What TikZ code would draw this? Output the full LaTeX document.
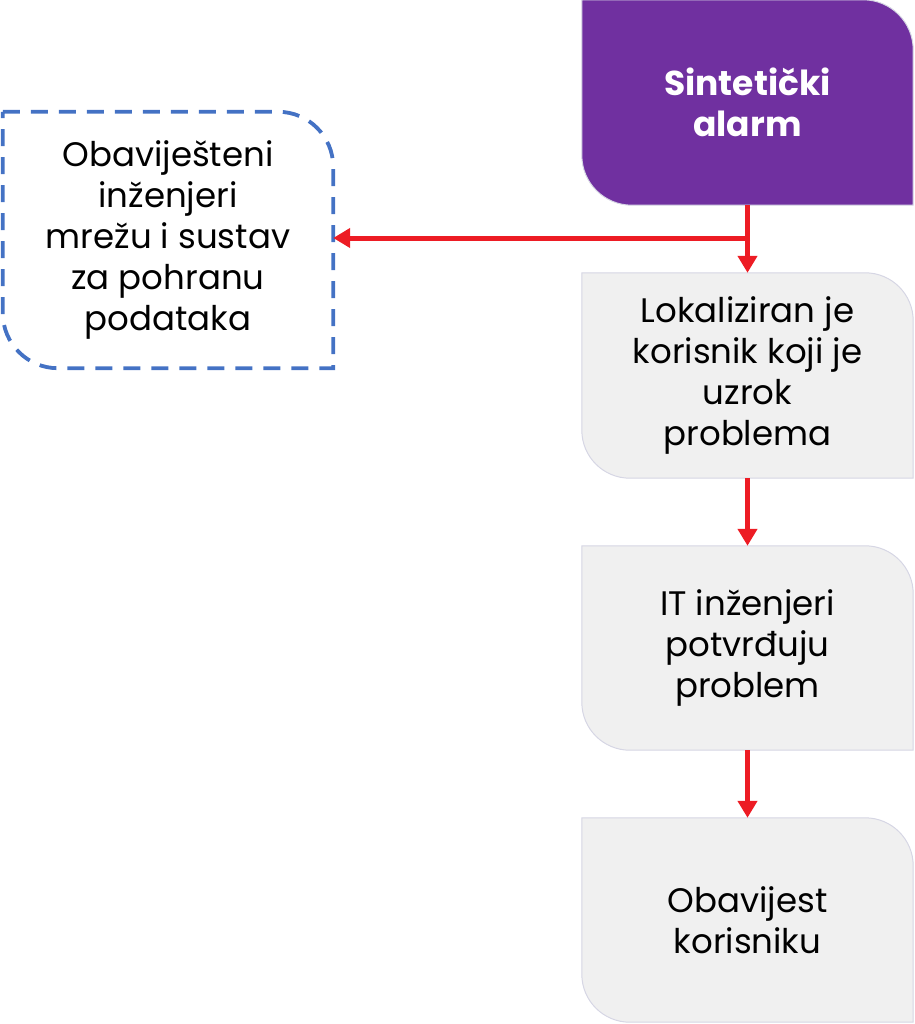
\documentclass[tikz,border=0pt]{standalone}
\usepackage{fontspec}
\setmainfont{Poppins}
\usetikzlibrary{arrows.meta,backgrounds}
\definecolor{alarmpurple}{HTML}{7030A0}
\definecolor{boxgray}{HTML}{F0F0F0}
\definecolor{boxedge}{HTML}{D6D6E4}
\definecolor{dashblue}{HTML}{4472C4}
\definecolor{flowred}{HTML}{ED1C24}
\newcommand\leafbox[3]{%
  \path[#2] (#1.north west) -- ([xshift=-#3]#1.north east)
    arc[start angle=90,end angle=0,radius=#3] -- (#1.south east)
    -- ([xshift=#3]#1.south west)
    arc[start angle=270,end angle=180,radius=#3] -- cycle;}
\tikzset{
  boxnode/.style={rectangle,inner sep=0pt,minimum width=331pt,align=center,
    font=\fontsize{34}{41}\selectfont},
  titlenode/.style={boxnode,text=white,font=\fontsize{34.5}{41}\selectfont\bfseries},
  grayfill/.style={fill=boxgray,draw=boxedge,line width=1pt},
  purplefill/.style={fill=alarmpurple,draw=boxedge,line width=1pt},
  dashfill/.style={draw=dashblue,line width=3.8pt,dash pattern=on 17pt off 11pt},
  flow/.style={draw=flowred,line width=5pt,-{Triangle[width=19pt,length=17pt]}},
  flowline/.style={draw=flowred,line width=5pt},
}
\begin{document}
\begin{tikzpicture}[x=1pt,y=1pt]
\useasboundingbox (0,0) rectangle (914,-1024);
\node[titlenode,minimum height=205pt] (alarm) at (747.5,-102.5) {Sintetički\\alarm};
\node[boxnode,minimum height=205pt] (lok) at (747.5,-375.5) {Lokaliziran je\\korisnik koji je\\uzrok\\problema};
\node[boxnode,minimum height=204pt] (it) at (747.5,-648) {IT inženjeri\\potvrđuju\\problem};
\node[boxnode,minimum height=204pt] (obk) at (747.5,-920) {Obavijest\\korisniku};
\node[boxnode,minimum width=330pt,minimum height=256pt] (obi) at (168,-240) {Obaviješteni\\inženjeri\\mrežu i sustav\\za pohranu\\podataka};
\begin{scope}[on background layer]
  \leafbox{alarm}{purplefill}{50pt}
  \leafbox{lok}{grayfill}{48pt}
  \leafbox{it}{grayfill}{48pt}
  \leafbox{obk}{grayfill}{48pt}
  \leafbox{obi}{dashfill}{55pt}
\end{scope}
\coordinate (split) at (alarm.south |- 0,-238);
\draw[flowline] (alarm.south) -- (split);
\draw[flow] (split) -- (lok.north);
\draw[flow] ([xshift=2.5pt]split) -- (obi.east |- split);
\draw[flow] (lok.south) -- (it.north);
\draw[flow] (it.south) -- (obk.north);
\end{tikzpicture}
\end{document}
